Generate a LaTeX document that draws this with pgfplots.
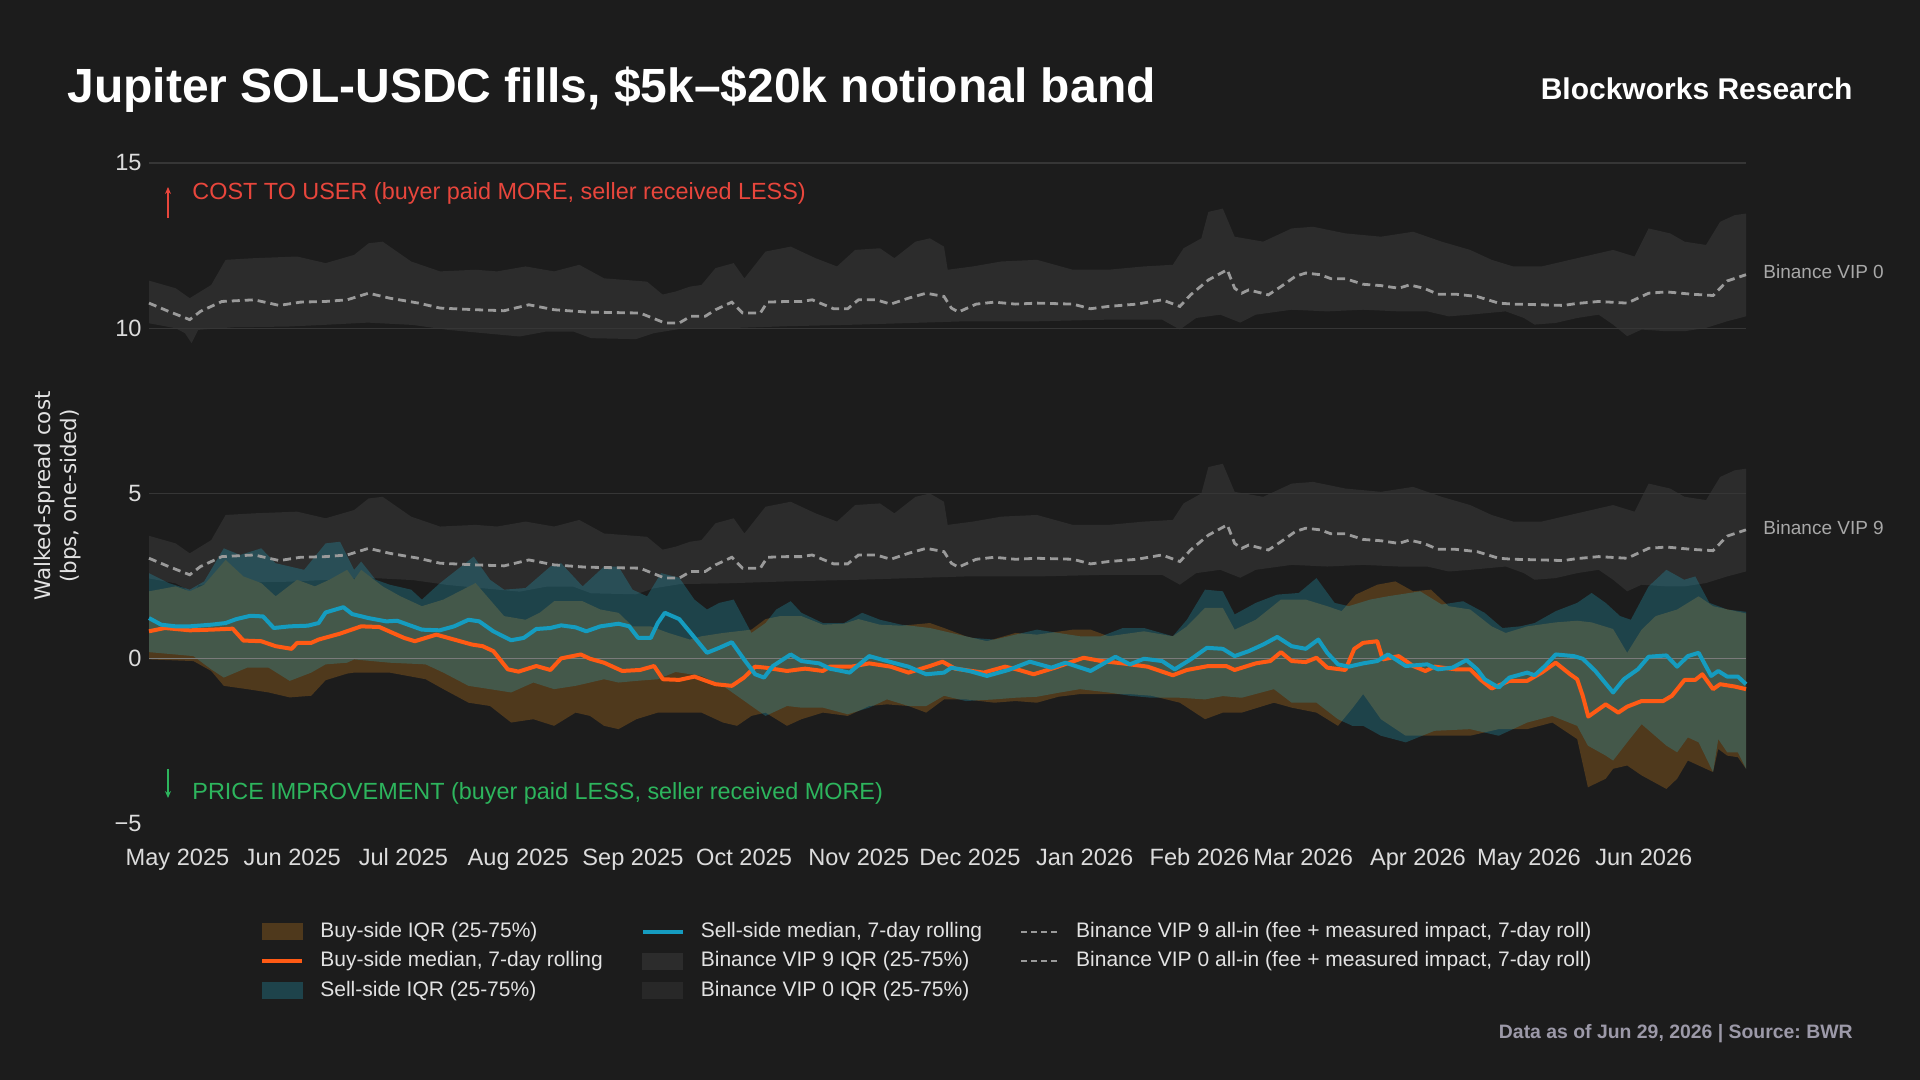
\documentclass[border=0pt]{standalone}
\usepackage{pgfplots}
\pgfplotsset{compat=1.18}
\usepackage{pgfplotstable}
\usepgfplotslibrary{fillbetween}
\usetikzlibrary{arrows.meta}
\usepackage{fontspec}
\setmainfont{Liberation Sans}
\newfontfamily\djv{DejaVu Sans}
\frenchspacing
\definecolor{bgc}{HTML}{1C1C1C}
\definecolor{vipc}{HTML}{2C2C2C}
\definecolor{vipzsw}{HTML}{282828}
\definecolor{brownc}{HTML}{4F391C}
\definecolor{tealc}{RGB}{36,181,212}
\definecolor{tealsw}{HTML}{1E434B}
\definecolor{orangec}{HTML}{FF5A14}
\definecolor{bluec}{HTML}{159CC0}
\definecolor{dashc}{HTML}{9A9A9A}
\definecolor{gridc}{HTML}{363636}
\definecolor{zeroc}{HTML}{7A7A7A}
\definecolor{tickc}{HTML}{DCDCDC}
\definecolor{legc}{HTML}{E2E2E2}
\definecolor{redc}{HTML}{E8463C}
\definecolor{greenc}{HTML}{2DB55D}
\definecolor{footc}{HTML}{9C99A8}
\definecolor{viplab}{HTML}{A8A8A8}

% ---------------- data (x = days since 1 May 2025) ----------------
\pgfplotstableread{
d v
-7.7 3.72
-0.5 3.49
3.3 3.19
9.1 3.59
13 4.35
20.7 4.40
32.3 4.45
40 4.25
47.7 4.50
51.6 4.85
55.4 4.90
63.1 4.30
70.9 4.00
80.5 4.05
86.3 4.00
94 4.15
101.7 4.00
108.5 4.20
115.2 3.79
126.8 3.69
131 3.30
134.5 3.39
138.4 3.54
141.5 3.59
145.3 4.10
150.2 4.25
153.1 3.79
158.8 4.60
165.6 4.75
172.3 4.40
178.1 4.15
183 4.65
189.7 4.70
193.6 4.40
199.3 4.90
203.2 5.00
207 4.75
208 4.05
214.8 4.15
222.5 4.30
232.1 4.35
241.8 4.05
251.4 4.05
261 4.15
268.8 4.20
271.7 4.70
276.5 5.00
278.4 5.80
282.3 5.90
285.5 5.05
293.2 4.90
300.9 5.30
306.7 5.35
315.4 5.15
325 5.05
333.7 5.20
341.4 4.90
349.1 4.65
354.9 4.35
360.7 4.15
368.4 4.15
378 4.40
387.7 4.65
393.5 4.45
397.3 5.30
403.1 5.15
407 4.90
412.8 4.80
416.6 5.50
420.5 5.70
423.6 5.75
}\vipnhi
\pgfplotstableread{
d v
-7.7 3.04
-2.4 2.79
3.3 2.54
6.2 2.79
12 3.09
20.7 3.14
27.5 2.97
33.2 3.07
40 3.09
45.8 3.14
51.6 3.34
57.3 3.19
65.1 3.04
70.9 2.89
80.5 2.84
88.2 2.81
94.9 2.99
101.7 2.84
110.4 2.77
124.9 2.74
131.6 2.44
135.5 2.44
138.6 2.64
142.5 2.64
145.3 2.84
149.7 3.07
152.6 2.74
157.4 2.74
159.3 3.07
164.6 3.09
168.5 3.09
171.4 3.14
177.2 2.87
181 2.87
183.9 3.14
188.7 3.14
192.6 3.01
197.4 3.19
202.2 3.34
207 3.24
209 2.89
210.9 2.77
215.7 3.01
220.6 3.07
226.3 3.01
232.1 3.04
241.8 3.01
246.6 2.87
251.4 2.94
259.1 3.01
265.9 3.14
270.7 2.94
273.6 3.29
278.4 3.74
283.5 4.05
285.5 3.49
287.4 3.34
289.3 3.44
294.6 3.29
298 3.54
301.9 3.85
304.7 3.95
308.6 3.90
311.5 3.78
315.4 3.78
320.2 3.61
325 3.57
329.8 3.49
332.7 3.59
336.6 3.49
340.4 3.31
345.2 3.31
351 3.24
356.8 3.04
360.7 3.01
368.4 2.99
374.2 2.97
378 3.03
383.8 3.09
391.5 3.04
397.3 3.34
402.1 3.38
408.9 3.31
414.7 3.27
418.5 3.71
423.6 3.90
}\vipnmid
\pgfplotstableread{
d v
-7.7 2.43
-0.5 2.28
2 2.13
3.8 1.83
5.6 2.23
15.2 2.31
29.7 2.33
39.3 2.38
51.4 2.45
63.5 2.38
73.1 2.23
87.5 2.08
92.4 2.03
99.6 2.18
106.9 2.18
111.7 1.98
123.8 1.95
128.6 2.13
135.8 2.26
147.9 2.28
164.6 2.34
183.9 2.39
212.9 2.49
232.1 2.49
251.4 2.54
265.9 2.54
270.7 2.24
275.1 2.59
281.6 2.69
287 2.45
291.2 2.69
300.9 2.84
310.5 2.79
320.2 2.84
329.8 2.79
337.5 2.79
343.3 2.64
349.1 2.69
358.7 2.79
363.6 2.59
366.5 2.39
372.2 2.44
378 2.59
383.8 2.69
387.7 2.39
391.5 2.04
395.4 2.24
402.1 2.19
407 2.19
412.8 2.29
418.5 2.49
423.6 2.64
}\vipnlo
\pgfplotstableread{
d v
-7.7 11.44
-0.5 11.21
3.3 10.91
9.1 11.31
13 12.07
20.7 12.12
32.3 12.17
40 11.97
47.7 12.22
51.6 12.57
55.4 12.62
63.1 12.02
70.9 11.72
80.5 11.77
86.3 11.72
94 11.87
101.7 11.72
108.5 11.92
115.2 11.51
126.8 11.41
131 11.02
134.5 11.11
138.4 11.26
141.5 11.31
145.3 11.82
150.2 11.97
153.1 11.51
158.8 12.32
165.6 12.47
172.3 12.12
178.1 11.87
183 12.37
189.7 12.42
193.6 12.12
199.3 12.62
203.2 12.72
207 12.47
208 11.77
214.8 11.87
222.5 12.02
232.1 12.07
241.8 11.77
251.4 11.77
261 11.87
268.8 11.92
271.7 12.42
276.5 12.72
278.4 13.52
282.3 13.62
285.5 12.77
293.2 12.62
300.9 13.02
306.7 13.07
315.4 12.87
325 12.77
333.7 12.92
341.4 12.62
349.1 12.37
354.9 12.07
360.7 11.87
368.4 11.87
378 12.12
387.7 12.37
393.5 12.17
397.3 13.02
403.1 12.87
407 12.62
412.8 12.52
416.6 13.22
420.5 13.42
423.6 13.47
}\vipzhi
\pgfplotstableread{
d v
-7.7 10.76
-2.4 10.51
3.3 10.26
6.2 10.51
12 10.81
20.7 10.86
27.5 10.69
33.2 10.79
40 10.81
45.8 10.86
51.6 11.06
57.3 10.91
65.1 10.76
70.9 10.61
80.5 10.56
88.2 10.53
94.9 10.71
101.7 10.56
110.4 10.49
124.9 10.46
131.6 10.16
135.5 10.16
138.6 10.36
142.5 10.36
145.3 10.56
149.7 10.79
152.6 10.46
157.4 10.46
159.3 10.79
164.6 10.81
168.5 10.81
171.4 10.86
177.2 10.59
181 10.59
183.9 10.86
188.7 10.86
192.6 10.73
197.4 10.91
202.2 11.06
207 10.96
209 10.61
210.9 10.49
215.7 10.73
220.6 10.79
226.3 10.73
232.1 10.76
241.8 10.73
246.6 10.59
251.4 10.66
259.1 10.73
265.9 10.86
270.7 10.66
273.6 11.01
278.4 11.46
283.5 11.77
285.5 11.21
287.4 11.06
289.3 11.16
294.6 11.01
298 11.26
301.9 11.57
304.7 11.67
308.6 11.62
311.5 11.50
315.4 11.50
320.2 11.33
325 11.29
329.8 11.21
332.7 11.31
336.6 11.21
340.4 11.03
345.2 11.03
351 10.96
356.8 10.76
360.7 10.73
368.4 10.71
374.2 10.69
378 10.75
383.8 10.81
391.5 10.76
397.3 11.06
402.1 11.10
408.9 11.03
414.7 10.99
418.5 11.43
423.6 11.62
}\vipzmid
\pgfplotstableread{
d v
-7.7 10.15
-0.5 10.00
2 9.85
3.8 9.55
5.6 9.95
15.2 10.03
29.7 10.05
39.3 10.10
51.4 10.17
63.5 10.10
73.1 9.95
87.5 9.80
92.4 9.75
99.6 9.90
106.9 9.90
111.7 9.70
123.8 9.67
128.6 9.85
135.8 9.98
147.9 10.00
164.6 10.06
183.9 10.11
212.9 10.21
232.1 10.21
251.4 10.26
265.9 10.26
270.7 9.96
275.1 10.31
281.6 10.41
287 10.17
291.2 10.41
300.9 10.56
310.5 10.51
320.2 10.56
329.8 10.51
337.5 10.51
343.3 10.36
349.1 10.41
358.7 10.51
363.6 10.31
366.5 10.11
372.2 10.16
378 10.31
383.8 10.41
387.7 10.11
391.5 9.76
395.4 9.96
402.1 9.91
407 9.91
412.8 10.01
418.5 10.21
423.6 10.36
}\vipzlo
\pgfplotstableread{
d v
-7.7 2.04
-0.5 2.19
3.3 2.04
7.2 2.24
13 2.99
17.8 2.49
22.6 2.29
26.5 1.89
32.3 2.39
37.1 2.19
41 2.39
45.8 2.69
47.7 2.39
49.6 2.69
55.4 2.19
60.2 1.89
66 1.59
71.8 1.79
80.5 2.29
88.2 1.29
94 1.18
97.8 1.39
101.7 1.74
109.4 1.74
114.2 1.49
119.1 1.39
122.9 0.98
127.8 0.98
132.6 0.78
138.4 0.58
141.5 0.68
147.3 0.78
155 0.88
158.8 1.20
162.7 1.29
168.5 1.29
174.3 1.03
180 1.06
183.9 1.20
189.7 1.03
195.5 1.00
203.2 1.08
207 0.93
212.9 0.68
218.6 0.53
226.3 0.78
232.1 0.73
241.8 0.88
246.6 0.88
251.4 0.68
261 0.83
268.8 0.68
272.6 0.98
277.5 1.54
282.3 1.54
285.5 0.88
291.2 1.18
298 1.79
304.7 1.79
310.5 1.59
314.4 1.44
318.2 1.94
324 2.24
328.9 2.34
333.7 2.04
338.5 2.09
343.3 1.59
349.1 1.49
354.9 0.98
358.7 0.78
364.5 0.98
372.2 1.10
378 1.15
381.9 1.10
387.7 0.90
391.5 0.18
395.4 0.88
399.2 1.29
405 1.49
410.8 1.89
414.7 1.59
423.6 1.37
}\buyhi
\pgfplotstableread{
d v
-7.7 -0.02
4.3 -0.07
9.1 -0.37
12.5 -0.82
18.8 -0.92
24.6 -1.02
30.3 -1.17
36.1 -1.12
40 -0.65
45.8 -0.45
47.7 -0.42
57.3 -0.42
67 -0.62
71.8 -0.92
78.6 -1.33
84.4 -1.43
90.1 -1.93
96.1 -1.83
101.7 -2.03
107.5 -1.63
111.4 -1.73
115.2 -2.03
119.1 -2.13
123.9 -1.83
129.7 -1.63
134.5 -1.63
141.5 -1.63
147.3 -1.93
151.1 -2.03
155 -1.73
158.8 -1.63
164.6 -2.03
168.5 -1.83
174.3 -1.63
181 -1.73
186.8 -1.43
191.6 -1.38
197.4 -1.43
202.2 -1.63
207 -1.23
212.9 -1.23
220.6 -1.33
226.3 -1.28
232.1 -1.33
237.9 -1.15
243.7 -1.07
251.4 -1.07
257.2 -1.07
263 -1.12
270.7 -1.33
277.5 -1.83
282.3 -1.63
287.4 -1.63
296.1 -1.33
300.9 -1.48
307.6 -1.63
313.4 -2.03
317.3 -1.50
320.2 -1.07
325 -1.83
331.7 -2.33
339.5 -2.33
349.1 -2.33
356.8 -2.13
364.5 -2.13
371.3 -1.93
378 -2.43
380.9 -3.89
385.7 -3.63
387.7 -3.33
391.5 -3.23
395.4 -3.53
402.1 -3.94
405 -3.63
407.9 -3.08
410.8 -3.23
414.7 -3.43
416.1 -2.73
418.5 -2.93
421.4 -2.98
423.6 -3.33
}\buylo
\pgfplotstableread{
d v
-7.7 2.59
-2.4 2.29
3.3 2.09
7.2 2.34
12.5 3.34
16.9 3.14
22.6 3.34
26.5 2.89
34.2 2.69
40 3.49
43.9 3.54
47.7 2.69
49.6 2.94
53.5 2.39
57.3 2.24
63.1 2.09
66 1.79
70.9 2.29
76.6 2.79
80 3.09
84.4 2.39
88.2 2.09
94 2.14
100.7 2.79
103.6 2.89
109.4 2.19
115.2 2.79
119.1 2.79
122.9 2.09
126.8 1.89
130.6 2.59
135.5 2.45
139.6 1.79
143 1.49
146.3 1.69
150.2 1.79
155 0.78
158.8 1.08
161.7 1.49
165.6 1.74
168.5 1.39
174.3 1.08
180 1.08
184.9 1.39
189.7 1.18
195.5 1.03
203.2 0.93
209 0.78
214.8 0.63
220.6 0.58
226.3 0.73
232.1 0.88
237.9 0.78
243.7 0.68
249.5 0.68
255.3 0.93
261 0.93
268.8 0.68
272.6 1.18
277.5 2.09
282.3 2.04
285.5 1.34
291.2 1.69
297 1.94
302.8 1.99
307.6 2.44
312.5 1.69
316.3 1.59
322.1 1.79
326.9 1.89
335.6 2.04
341.4 1.64
347.2 1.74
353 1.39
357.8 0.93
362.6 0.98
366.5 1.08
372.2 1.44
378 1.69
381.9 1.99
385.7 1.69
389.6 1.29
392.5 1.18
397.3 2.19
402.1 2.69
406.9 2.39
409.9 2.49
413.7 1.69
418.5 1.49
423.6 1.42
}\sellhi
\pgfplotstableread{
d v
-7.7 0.20
4.3 0.08
9.1 -0.32
12.5 -0.57
18.8 -0.27
24.6 -0.27
30.3 -0.67
36.1 -0.42
40 -0.17
45.8 -0.12
47.7 -0.02
57.3 -0.12
67 -0.17
71.8 -0.42
78.6 -0.82
84.4 -0.92
90.1 -1.02
96.1 -0.72
101.7 -0.92
107.5 -0.82
111.4 -0.72
115.2 -0.62
119.1 -0.72
123.9 -0.67
129.7 -0.62
134.5 -0.40
141.5 -0.52
147.3 -0.82
151.1 -1.12
155 -1.43
158.8 -1.73
164.6 -1.43
168.5 -1.48
174.3 -1.48
181 -1.68
186.8 -1.48
191.6 -1.23
197.4 -1.43
202.2 -1.43
207 -1.12
212.9 -1.28
220.6 -1.23
226.3 -1.18
232.1 -1.15
237.9 -1.03
243.7 -0.92
251.4 -1.02
257.2 -1.12
263 -1.18
270.7 -1.18
277.5 -1.23
282.3 -1.13
287.4 -1.18
296.1 -0.92
300.9 -1.33
307.6 -1.33
313.4 -1.83
317.3 -2.03
320.2 -2.03
325 -2.33
331.7 -2.53
339.5 -2.18
349.1 -2.13
356.8 -2.33
364.5 -1.93
371.3 -1.73
378 -2.03
380.9 -2.63
385.7 -2.93
387.7 -3.08
391.5 -2.53
395.4 -1.98
402.1 -2.63
405 -2.83
407.9 -2.38
410.8 -2.53
414.7 -3.43
416.1 -2.43
418.5 -2.83
421.4 -2.83
423.6 -3.33
}\selllo
\pgfplotstableread{
d v
-7.7 0.83
-3.4 0.93
3.3 0.86
9.1 0.88
14.9 0.91
17.8 0.55
22.6 0.53
26.5 0.38
30.8 0.30
32.3 0.48
36.1 0.48
38.1 0.58
43.9 0.76
49.6 0.98
54.5 0.96
61.2 0.63
64.1 0.53
69.9 0.73
74.7 0.58
79.5 0.43
82.4 0.38
85.3 0.23
89.2 -0.32
92.1 -0.39
96.9 -0.22
100.7 -0.34
103.6 0.01
108.9 0.13
111.4 0.00
115.2 -0.12
120.1 -0.37
124.9 -0.34
128.7 -0.22
131.1 -0.62
135.5 -0.64
139.6 -0.54
145.3 -0.77
149.7 -0.82
153 -0.57
156 -0.24
158.8 -0.27
164.6 -0.37
169.5 -0.30
174.3 -0.37
176.2 -0.24
182 -0.24
186.8 -0.14
192.6 -0.24
197.4 -0.42
203.2 -0.22
206.6 -0.09
210 -0.30
217.7 -0.42
223.5 -0.24
227.3 -0.34
231.2 -0.47
237 -0.27
244.7 0.03
249.5 -0.07
255.3 -0.14
262 -0.24
268.8 -0.50
272.6 -0.34
278.4 -0.22
283.2 -0.22
285.5 -0.34
291.2 -0.14
295.1 -0.07
298 0.20
300.9 -0.07
304.7 -0.10
307.6 0.03
310.5 -0.27
315.4 -0.34
317.8 0.30
320.2 0.48
324 0.53
325.5 -0.02
329.8 0.08
333.7 -0.22
337 -0.37
339.5 -0.24
345.2 -0.32
349.1 -0.32
352 -0.64
354.9 -0.90
359.7 -0.67
364.5 -0.67
368.4 -0.42
372.2 -0.12
376.1 -0.47
378 -0.62
379.5 -1.12
381 -1.75
385.7 -1.38
389.1 -1.63
391.5 -1.45
395.4 -1.28
401.2 -1.28
403.6 -1.12
407 -0.64
409.9 -0.64
411.8 -0.47
414.7 -0.92
416.6 -0.77
420.5 -0.84
423.6 -0.92
}\buymed
\pgfplotstableread{
d v
-7.7 1.23
-4.4 1.03
-0.5 0.98
3.3 0.98
9.1 1.03
13 1.08
15.9 1.20
19.7 1.30
23.1 1.28
26 0.93
30.3 0.98
35.2 1.00
38.1 1.08
40 1.40
44.8 1.56
47.2 1.35
51.6 1.23
56.4 1.13
59.3 1.15
66 0.88
70.8 0.86
74.7 0.98
78.6 1.18
81.5 1.13
85.3 0.83
90.1 0.56
93.5 0.63
96.9 0.90
100.7 0.93
103.6 1.01
107.5 0.95
110.4 0.83
114.2 0.98
119.1 1.06
122 0.98
124.4 0.63
127.8 0.63
129.7 1.08
131.6 1.39
135.5 1.20
138.6 0.78
143 0.18
146.3 0.33
149.7 0.50
153 -0.02
156 -0.47
158.4 -0.57
160.8 -0.22
165.6 0.13
168.5 -0.07
173.3 -0.14
176.2 -0.30
181.5 -0.42
186.8 0.08
191.6 -0.07
197.4 -0.24
202.2 -0.47
207 -0.42
209 -0.27
213.8 -0.37
218.6 -0.52
224.4 -0.34
230.2 -0.09
236 -0.27
239.8 -0.12
246.6 -0.37
253.3 0.06
257.2 -0.17
261 0.00
265.9 -0.07
269.3 -0.32
273.6 -0.02
278 0.33
282.3 0.30
285.5 0.08
289.3 0.23
293.2 0.43
297 0.66
300.9 0.38
304.7 0.30
308.1 0.58
310.5 0.18
313.4 -0.17
316.3 -0.24
320.2 -0.14
324 -0.07
326.9 0.13
331.7 -0.22
337.5 -0.17
340.4 -0.32
344.3 -0.27
348.1 -0.04
351 -0.32
353 -0.62
356.8 -0.87
359.7 -0.57
364.5 -0.42
366.5 -0.50
369.3 -0.22
372.2 0.13
377.1 0.08
379.5 0.00
382.9 -0.37
387.7 -1.02
390.6 -0.62
394.4 -0.32
397.3 0.06
402.1 0.10
405 -0.24
407.9 0.08
410.8 0.18
414.2 -0.52
416.1 -0.37
418.5 -0.54
421.4 -0.54
423.6 -0.77
}\sellmed

\begin{document}
\begin{tikzpicture}[x=1pt,y=1pt]
\fill[bgc] (0,0) rectangle (960,540);
\begin{axis}[
  at={(74.5pt,128pt)}, anchor=south west,
  width=798.5pt, height=330.5pt, scale only axis,
  xmin=-7.7, xmax=423.6, ymin=-5, ymax=15,
  clip=false,
  fill between/on layer=main,
  axis line style={draw=none},
  xtick={0,31,61,92,123,153,184,214,245,276,304,335,365,396},
  xticklabels={May 2025,Jun 2025,Jul 2025,Aug 2025,Sep 2025,Oct 2025,Nov 2025,Dec 2025,Jan 2026,Feb 2026,Mar 2026,Apr 2026,May 2026,Jun 2026},
  ytick={-5,0,5,10,15},
  yticklabels={−5,0,5,10,15},
  xtick pos=bottom,
  tick align=inside, major tick length=3pt,
  xtick style={draw=tickc, line width=0.6pt},
  ytick style={draw=none},
  ticklabel style={font=\fontsize{11.8}{13}\selectfont, text=tickc},
  xticklabel style={anchor=base, inner sep=0pt, yshift=-21pt},
  yticklabel style={anchor=east, inner sep=0pt, xshift=-3.5pt},
  legend columns=3,
  legend cell align=left,
  legend style={at={(axis description cs:0.0695,-0.1467)}, anchor=north west,
    draw=none, fill=none, inner sep=0pt,
    font=\fontsize{10.5}{12}\selectfont, text=legc,
    nodes={inner sep=0pt, text height=8pt, text depth=2.5pt},
    row sep=4.2pt,
    /tikz/every odd column/.append style={column sep=8pt},
    /tikz/every even column/.append style={column sep=19pt}},
]
% Binance bands
\addplot[name path=vzh, draw=none, forget plot] table[x=d,y=v]{\vipzhi};
\addplot[name path=vzl, draw=none, forget plot] table[x=d,y=v]{\vipzlo};
\addplot[fill=vipc, draw=none, forget plot] fill between[of=vzh and vzl];
\addplot[name path=vnh, draw=none, forget plot] table[x=d,y=v]{\vipnhi};
\addplot[name path=vnl, draw=none, forget plot] table[x=d,y=v]{\vipnlo};
\addplot[fill=vipc, draw=none, forget plot] fill between[of=vnh and vnl];
% Jupiter bands
\addplot[name path=bh, draw=none, forget plot] table[x=d,y=v]{\buyhi};
\addplot[name path=bl, draw=none, forget plot] table[x=d,y=v]{\buylo};
\addplot[fill=brownc, draw=none, forget plot] fill between[of=bh and bl];
\addplot[name path=sh, draw=none, forget plot] table[x=d,y=v]{\sellhi};
\addplot[name path=sl, draw=none, forget plot] table[x=d,y=v]{\selllo};
\addplot[fill=tealc, fill opacity=0.255, draw=none, forget plot] fill between[of=sh and sl];
% grid lines
\addplot[gridc, line width=0.6pt, forget plot] coordinates {(-7.7,5) (423.6,5)};
\addplot[gridc, line width=0.6pt, forget plot] coordinates {(-7.7,10) (423.6,10)};
\addplot[gridc, line width=0.6pt, forget plot] coordinates {(-7.7,15) (423.6,15)};
\addplot[zeroc, line width=0.6pt, forget plot] coordinates {(-7.7,0) (423.6,0)};
% Binance all-in lines
\addplot[dashc, line width=1.4pt, dash pattern=on 4pt off 2.5pt, forget plot] table[x=d,y=v]{\vipnmid};
\addplot[dashc, line width=1.4pt, dash pattern=on 4pt off 2.5pt, forget plot] table[x=d,y=v]{\vipzmid};
% medians
\addplot[orangec, line width=2pt, line join=round, forget plot] table[x=d,y=v]{\buymed};
\addplot[bluec, line width=2pt, line join=round, forget plot] table[x=d,y=v]{\sellmed};

% legend (row-major: three columns)
\addlegendimage{legend image code/.code={\fill[brownc] (0pt,-4pt) rectangle (20pt,4pt);}}
\addlegendentry{Buy-side IQR (25-75\%)}
\addlegendimage{legend image code/.code={\draw[bluec, line width=2pt] (0pt,0pt) -- (20pt,0pt);}}
\addlegendentry{Sell-side median, 7-day rolling}
\addlegendimage{legend image code/.code={\draw[dashc, line width=1pt, dash pattern=on 3pt off 2pt] (0pt,0pt) -- (19pt,0pt);}}
\addlegendentry{Binance VIP 9 all-in (fee + measured impact, 7-day roll)}
\addlegendimage{legend image code/.code={\draw[orangec, line width=2pt] (0pt,0pt) -- (20pt,0pt);}}
\addlegendentry{Buy-side median, 7-day rolling}
\addlegendimage{legend image code/.code={\fill[vipc] (0pt,-4pt) rectangle (20pt,4pt);}}
\addlegendentry{Binance VIP 9 IQR (25-75\%)}
\addlegendimage{legend image code/.code={\draw[dashc, line width=1pt, dash pattern=on 3pt off 2pt] (0pt,0pt) -- (19pt,0pt);}}
\addlegendentry{Binance VIP 0 all-in (fee + measured impact, 7-day roll)}
\addlegendimage{legend image code/.code={\fill[tealsw] (0pt,-4pt) rectangle (20pt,4pt);}}
\addlegendentry{Sell-side IQR (25-75\%)}
\addlegendimage{legend image code/.code={\fill[vipzsw] (0pt,-4pt) rectangle (20pt,4pt);}}
\addlegendentry{Binance VIP 0 IQR (25-75\%)}
\end{axis}

% titles and annotations
\node[anchor=base west, inner sep=0pt, text=white, font=\bfseries\fontsize{24}{28}\selectfont] at (33.5,488.5) {Jupiter SOL-USDC fills, \$5k–\$20k notional band};
\node[anchor=base east, inner sep=0pt, text=white, font=\bfseries\fontsize{15}{18}\selectfont] at (926.5,490) {Blockworks Research};
\node[anchor=base east, inner sep=0pt, text=footc, font=\bfseries\fontsize{9.7}{12}\selectfont] at (926.5,20.5) {Data as of Jun 29, 2026 | Source: BWR};
\node[anchor=base west, inner sep=0pt, text=redc, font=\fontsize{11.7}{14}\selectfont] at (96,440) {COST TO USER (buyer paid MORE, seller received LESS)};
\draw[redc, line width=0.6pt, -{Stealth[length=3.5pt,width=3pt]}] (84,431) -- (84,446.5);
\node[anchor=base west, inner sep=0pt, text=greenc, font=\fontsize{11.7}{14}\selectfont] at (96,140) {PRICE IMPROVEMENT (buyer paid LESS, seller received MORE)};
\draw[greenc, line width=0.6pt, -{Stealth[length=3.5pt,width=3pt]}] (84,155.5) -- (84,141);
\node[anchor=base west, inner sep=0pt, text=viplab, font=\fontsize{9.5}{11}\selectfont] at (881.5,400.5) {Binance VIP 0};
\node[anchor=base west, inner sep=0pt, text=viplab, font=\fontsize{9.5}{11}\selectfont] at (881.5,272.5) {Binance VIP 9};
\node[rotate=90, align=center, inner sep=0pt, text=legc, font=\djv\fontsize{10.7}{13}\selectfont] at (29,292) {Walked-spread cost\\(bps, one-sided)};
\end{tikzpicture}
\end{document}
